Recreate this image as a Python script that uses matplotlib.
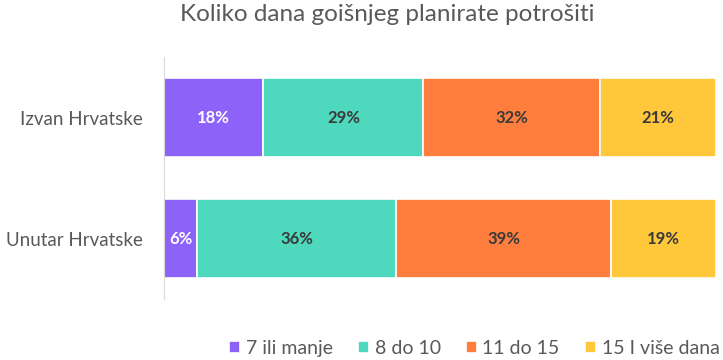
import matplotlib.pyplot as plt
import numpy as np

categories = ["Izvan Hrvatske", "Unutar Hrvatske"]
series = ["7 ili manje", "8 do 10", "11 do 15", "15 I više dana"]
values = {
    "7 ili manje": [18, 6],
    "8 do 10": [29, 36],
    "11 do 15": [32, 39],
    "15 I više dana": [21, 19],
}
colors = ["#8C62F8", "#4ED8BD", "#FF7E3E", "#FFC83B"]
label_colors = ["white", "#3a3a3a", "#3a3a3a", "#3a3a3a"]

plt.rcParams['font.family'] = ['Lato', 'DejaVu Sans']

fig = plt.figure(figsize=(7.23, 3.6), dpi=100)
ax = fig.add_axes([0.2268, 0.1694, 0.7635, 0.672])

y = np.arange(len(categories))
left = np.zeros(len(categories))
for s, c, lc in zip(series, colors, label_colors):
    vals = np.array(values[s])
    bars = ax.barh(y, vals, left=left, height=0.655, color=c,
                   edgecolor="white", linewidth=1.2, label=s)
    for b, v in zip(bars, vals):
        ax.text(b.get_x() + b.get_width() / 2, b.get_y() + b.get_height() / 2,
                f"{v}%", ha="center", va="center", color=lc,
                fontsize=12, fontweight="bold")
    left += vals

ax.set_xlim(0, 100)
ax.set_ylim(1.5, -0.5)
ax.set_yticks(y)
ax.set_yticklabels(categories, fontsize=13.5, color="#595959")
ax.tick_params(axis="y", length=0, pad=15)
ax.set_xticks([])
for sp in ["top", "right", "bottom"]:
    ax.spines[sp].set_visible(False)
ax.spines["left"].set_color("#d9d9d9")

fig.text(0.536, 0.96, "Koliko dana goišnjeg planirate potrošiti", ha="center",
         va="center", fontsize=17.5, color="#595959")

fig.legend(loc="center", bbox_to_anchor=(0.656, 0.033), ncol=4, frameon=False,
           fontsize=14, labelcolor="#595959", handlelength=0.55, handleheight=0.55,
           handletextpad=0.3, columnspacing=1.3)

plt.savefig("out.png", dpi=100)
